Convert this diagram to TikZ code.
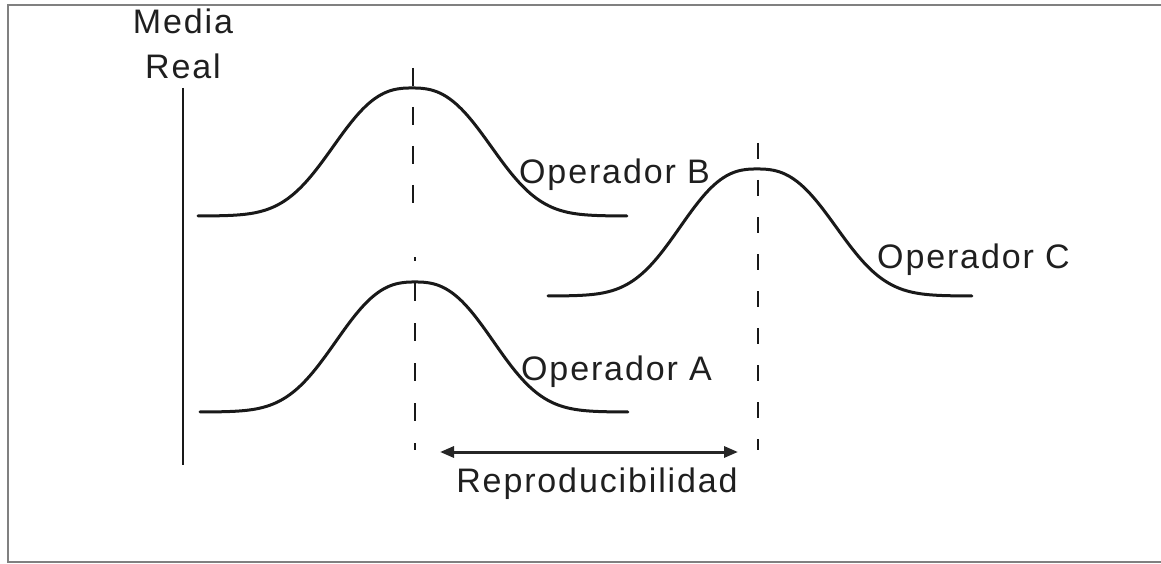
\documentclass[tikz,border=0pt]{standalone}
\usepackage{fontspec}
\setmainfont{Liberation Sans}[LetterSpace=5.5]
\usetikzlibrary{arrows.meta}
\newcommand\bellcurve[5]{% xstart, xpeak, xend, ybase, height
  \draw[curve] plot[domain=-1:0, samples=70, smooth]
      ({#2+\x*(#2-#1)},{#4-#5*exp(-pow((abs(\x)+0.0001)/0.445,2.6))})
    -- plot[domain=0:1, samples=70, smooth]
      ({#2+\x*(#3-#2)},{#4-#5*exp(-pow((abs(\x)+0.0001)/0.445,2.6))});}
\begin{document}
\begin{tikzpicture}[x=1pt,y=-1pt,
  curve/.style={line width=3pt, line cap=round, line join=round, black!90},
  guide/.style={line width=2.8pt, black!90},
  axisline/.style={line width=2.8pt, black!90},
  lbl/.style={font=\fontsize{34}{40}\selectfont, inner sep=0pt, text=black!88},
  framel/.style={line width=2pt, black!50},
  span/.style={line width=3pt, black!85, {Triangle[length=14pt,width=11pt]}-{Triangle[length=14pt,width=11pt]}}]
\useasboundingbox (0,0) rectangle (1161,564);
\fill[white] (0,0) rectangle (1161,564);
% frame (right side not drawn)
\coordinate (fTR) at (1161,5);
\coordinate (fTL) at (8,5);
\coordinate (fBL) at (8,562);
\coordinate (fBR) at (1161,562);
\draw[framel] (fTR) -- (fTL) -- (fBL) -- (fBR);
% axis "Media Real"
\node[lbl, anchor=base] (media) at (183,34) {Media};
\node[lbl, anchor=base] (real) at (183,79) {Real};
\coordinate (axTop) at (183,88);
\coordinate (axBot) at (183,465);
\draw[axisline] (axTop) -- (axBot);
% curves
\bellcurve{198}{412}{627}{216}{128}
\bellcurve{200}{415}{628}{412}{130}
\bellcurve{548}{757}{972}{296}{127}
% dashed mean lines
\coordinate (bTop) at (413,68);
\coordinate (bBot) at (413,203);
\draw[guide, dash pattern=on 18pt off 21pt] (bTop) -- (bBot);
\coordinate (aTop) at (415,257);
\coordinate (aBot) at (415,450);
\draw[guide, dash pattern=on 18pt off 22pt, dash phase=14pt] (aTop) -- (aBot);
\coordinate (cTop) at (758,143);
\coordinate (cBot) at (758,450);
\draw[guide, dash pattern=on 16pt off 21pt] (cTop) -- (cBot);
% labels
\node[lbl, anchor=base west] (opB) at (519,184) {Operador B};
\node[lbl, anchor=base west] (opC) at (877,268) {Operador C};
\node[lbl, anchor=base west] (opA) at (521,380) {Operador A};
% reproducibility arrow
\coordinate (arrL) at (440,452);
\coordinate (arrR) at (738,452);
\draw[span] (arrL) -- (arrR);
\node[lbl, anchor=base] (repro) at (597,492) {Reproducibilidad};
\end{tikzpicture}
\end{document}
